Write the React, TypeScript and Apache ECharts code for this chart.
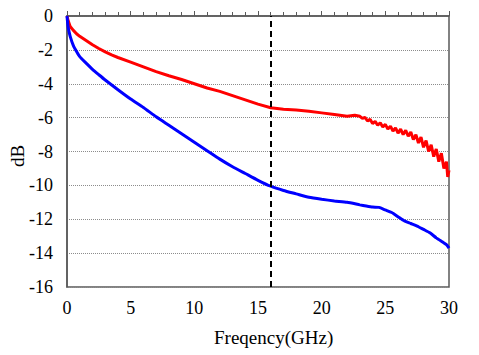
import React, { useEffect, useRef } from "react";
import * as echarts from "echarts";

const redFreq = [0, 0.1, 0.25, 0.5, 0.75, 1, 1.5, 2, 2.5, 3, 3.5, 4, 5, 6, 7, 8, 9, 10, 11, 12, 13, 14, 15, 16, 17, 18, 19, 20, 21, 22, 22.6, 23.0, 23.2, 23.4, 23.6, 23.8, 24.0, 24.2, 24.4, 24.6, 24.8, 25.0, 25.2, 25.4, 25.6, 25.8, 26.0, 26.2, 26.4, 26.6, 26.8, 27.0, 27.2, 27.4, 27.6, 27.8, 28.0, 28.2, 28.4, 28.6, 28.8, 29.0, 29.2, 29.4, 29.6, 29.8, 29.9, 30.0];
const redDb = [0, -0.3, -0.62, -0.85, -1.05, -1.2, -1.45, -1.7, -1.92, -2.12, -2.3, -2.45, -2.72, -3.0, -3.28, -3.53, -3.75, -4.0, -4.25, -4.45, -4.7, -4.95, -5.2, -5.42, -5.5, -5.55, -5.62, -5.72, -5.82, -5.92, -5.86, -5.92, -6.05, -5.98, -6.2, -6.1, -6.35, -6.22, -6.45, -6.3, -6.55, -6.4, -6.68, -6.5, -6.8, -6.6, -6.92, -6.68, -7.0, -6.75, -7.1, -6.85, -7.3, -7.0, -7.5, -7.15, -7.75, -7.35, -8.0, -7.6, -8.3, -7.85, -8.6, -8.1, -9.0, -8.6, -9.5, -9.1];

const blueFreq = [0, 0.05, 0.1, 0.25, 0.5, 0.75, 1, 1.5, 2, 2.5, 3, 4, 5, 6, 7, 8, 9, 10, 11, 12, 13, 14, 15, 16, 17, 18, 19, 20, 21, 22, 23, 23.5, 24, 24.5, 25, 25.5, 26, 26.5, 27, 27.5, 28, 28.5, 29, 29.5, 29.8, 30];
const blueDb = [0, -0.4, -0.7, -1.2, -1.75, -2.1, -2.4, -2.78, -3.15, -3.47, -3.78, -4.35, -4.9, -5.4, -5.95, -6.45, -6.95, -7.45, -7.95, -8.45, -8.9, -9.3, -9.7, -10.05, -10.3, -10.5, -10.7, -10.82, -10.92, -11.0, -11.15, -11.22, -11.28, -11.3, -11.45, -11.6, -11.85, -12.1, -12.25, -12.4, -12.6, -12.8, -13.1, -13.35, -13.5, -13.7];

const markerFreq = 16;
const xTicks = [0, 5, 10, 15, 20, 25, 30];
const yTicks = [0, -2, -4, -6, -8, -10, -12, -14, -16];

const FONT = "Liberation Serif";

export default function App() {
  const ref = useRef<HTMLDivElement>(null);
  useEffect(() => {
    document.body.style.margin = "0";
    if (!ref.current) return;
    const chart = echarts.init(ref.current, undefined, { renderer: "svg" });
    chart.setOption({
      animation: false,
      backgroundColor: "#ffffff",
      textStyle: { fontFamily: FONT },
      grid: {
        left: 67,
        top: 16,
        right: 30,
        bottom: 68,
        show: true,
        borderColor: "#595959",
        borderWidth: 1.5,
      },
      xAxis: {
        type: "value",
        min: xTicks[0],
        max: xTicks[xTicks.length - 1],
        interval: 5,
        axisLine: { show: true, lineStyle: { color: "#595959", width: 1.5 } },
        axisTick: { show: true, inside: true, length: 5, lineStyle: { color: "#595959" } },
        minorTick: { show: true, splitNumber: 5, length: 4, lineStyle: { color: "#595959" } },
        splitLine: { show: false },
        axisLabel: { color: "#000", fontFamily: FONT, fontSize: 18, margin: 12 },
      },
      yAxis: {
        type: "value",
        min: yTicks[yTicks.length - 1],
        max: yTicks[0],
        interval: 2,
        axisLine: { show: true, lineStyle: { color: "#595959", width: 1.5 } },
        axisTick: { show: false },
        splitLine: { show: true, lineStyle: { color: "#8c8c8c", type: [1, 1], width: 1 } },
        axisLabel: { color: "#000", fontFamily: FONT, fontSize: 18, margin: 14 },
      },
      graphic: [
        {
          type: "text",
          left: 214,
          top: 328,
          style: { text: "Freqency(GHz)", fontFamily: FONT, fontSize: 19, fill: "#000" },
        },
        {
          type: "text",
          x: 8,
          y: 167,
          rotation: Math.PI / 2,
          style: { text: "dB", fontFamily: FONT, fontSize: 19, fill: "#000" },
        },
      ],
      series: [
        {
          type: "line",
          data: redFreq.map((f, i) => [f, redDb[i]]),
          showSymbol: false,
          lineStyle: { color: "#ff0000", width: 3 },
          z: 3,
        },
        {
          type: "line",
          data: blueFreq.map((f, i) => [f, blueDb[i]]),
          showSymbol: false,
          smooth: 0.2,
          lineStyle: { color: "#0000ff", width: 3 },
          z: 3,
          markLine: {
            silent: true,
            symbol: "none",
            label: { show: false },
            lineStyle: { color: "#000", type: [6, 4], width: 2 },
            data: [{ xAxis: markerFreq }],
          },
        },
      ],
    });
    return () => chart.dispose();
  }, []);
  return <div ref={ref} style={{ width: 479, height: 355 }} />;
}
